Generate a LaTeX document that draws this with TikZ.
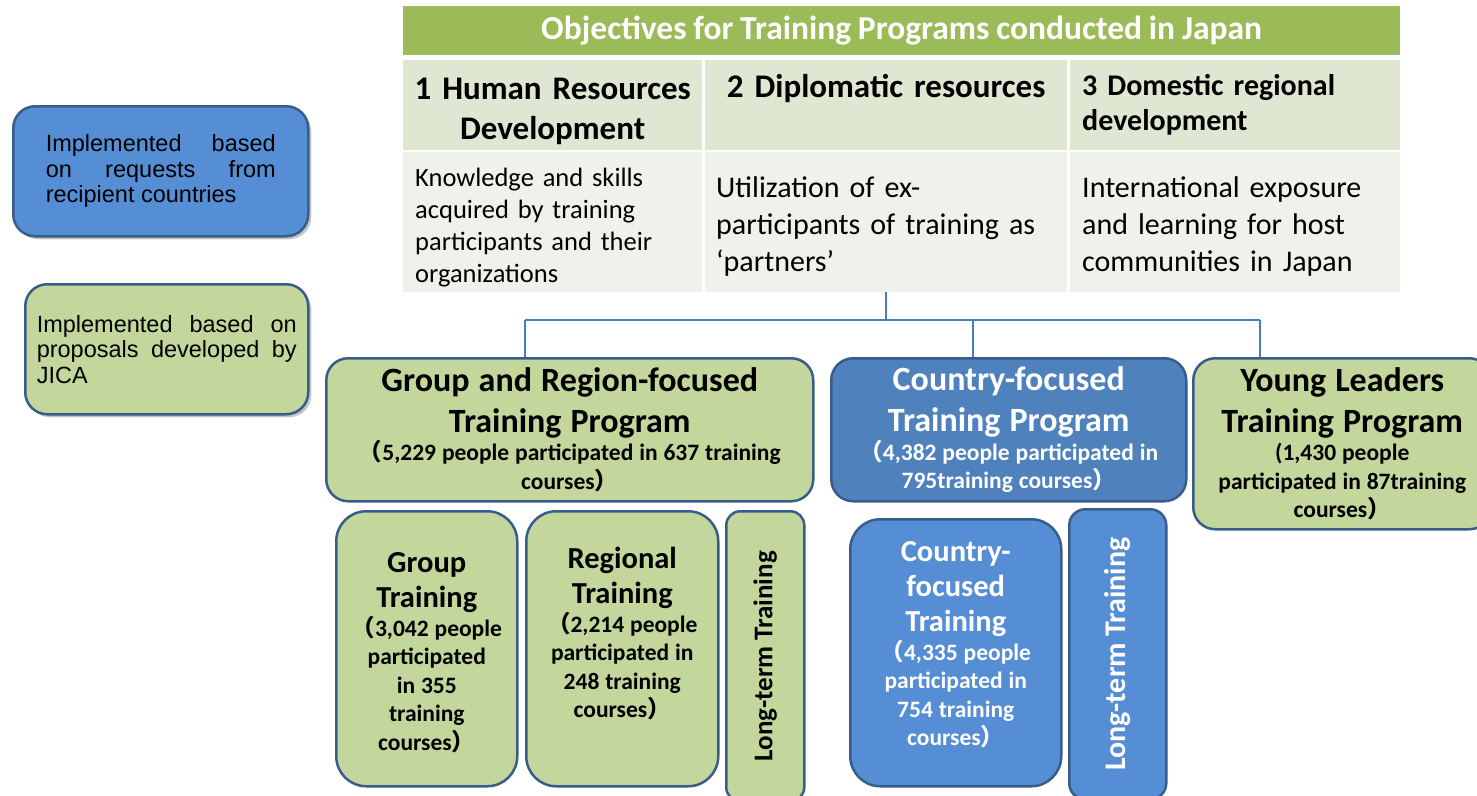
\documentclass[tikz,border=0pt]{standalone}
\usepackage{fontspec}
\setmainfont{Carlito}[WordSpace=0.9]
\newfontfamily\arial{Liberation Sans}
\newfontfamily\cjk{Noto Sans CJK SC}
\usetikzlibrary{shadows}

\definecolor{verdeobj}{HTML}{9BBB59}
\definecolor{fila1}{HTML}{DFE7D3}
\definecolor{fila2}{HTML}{EFF2EA}
\definecolor{verdecaja}{HTML}{C3D69B}
\definecolor{azulborde}{HTML}{385D8A}
\definecolor{azulclaro}{HTML}{558ED5}
\definecolor{azuloscuro}{HTML}{4F81BD}
\definecolor{linea}{HTML}{4A7EBB}

% parentesis de ancho completo
\newcommand{\abre}{{\cjk （}}
\newcommand{\cierra}{{\cjk ）}}
\newcommand{\titulo}[1]{{\fontsize{34}{41}\selectfont\spaceskip=.27em\relax #1\par}}
\newcommand{\titulob}[1]{{\fontsize{30.5}{35}\selectfont\spaceskip=.27em\relax #1\par}}
\newcommand{\cifras}[1]{{\fontsize{23.5}{28.5}\selectfont\spaceskip=.25em\relax #1\par}}

\begin{document}
\begin{tikzpicture}[x=1pt, y=-1pt,
  caja/.style={draw=azulborde, line width=2.5pt, rounded corners=22pt, anchor=north west,
    inner sep=0pt, align=center, font=\bfseries},
  verde/.style={caja, fill=verdecaja},
  azul/.style={caja, fill=azulclaro, text=white},
  celda/.style={anchor=north west, inner sep=0pt},
  leyenda/.style={caja, text=black, align=justify, font=\arial\fontsize{23.5}{25.5}\selectfont,
    drop shadow={shadow xshift=3pt, shadow yshift=-3pt, fill=black!45, opacity=.5}},
  conector/.style={draw=linea, line width=1.8pt}]

\useasboundingbox (0,0) rectangle (1477,795);
\fill[white] (0,0) rectangle (1477,795);

% Leyenda
\node[leyenda, fill=azulclaro, minimum width=295, minimum height=130, text width=230] (leg1) at (12,105)
  {Implemented\hfill based\\ on\hfill requests\hfill from\\ recipient countries};
\node[leyenda, fill=verdecaja, minimum width=283, minimum height=130, text width=260] (leg2) at (24,283)
  {Implemented\hfill based\hfill on\\ proposals\hfill developed\hfill by\\ JICA};

% Tabla de objetivos
\node[celda, fill=verdeobj, minimum width=997, minimum height=49, text=white,
  font=\fontsize{33.5}{40}\selectfont\bfseries] (obj) at (403,6) {Objectives for Training Programs conducted in Japan};
\node[celda, fill=fila1, minimum width=299, minimum height=90, text width=290, align=center,
  font=\fontsize{33}{40}\selectfont\bfseries] (c1a) at (403,60) {1 Human Resources\\ Development\par\kern-12pt};
\node[celda, fill=fila1, minimum width=362, minimum height=90, text width=350, align=center,
  text height=23, text depth=39, font=\fontsize{33}{40}\selectfont\bfseries] (c2a) at (705,60) {2 Diplomatic resources};
\node[celda, fill=fila1, minimum width=330, minimum height=90, text width=306, align=left,
  font=\fontsize{30}{35}\selectfont\bfseries] (c3a) at (1070,60) {3 Domestic regional\\ development};
\node[celda, fill=fila2, minimum width=299, minimum height=140, text width=275, align=left,
  font=\fontsize{26.5}{32}\selectfont] (c1b) at (403,152)
  {Knowledge and skills\\ acquired by training\\ participants and their\\ organizations\par\kern-10pt};
\node[celda, fill=fila2, minimum width=362, minimum height=140, text width=340, align=left,
  font=\fontsize{30}{37}\selectfont] (c2b) at (705,152)
  {Utilization of ex-\\ participants of training as\\ ‘partners’\par\kern-8pt};
\node[celda, fill=fila2, minimum width=330, minimum height=140, text width=306, align=left,
  font=\fontsize{30}{37}\selectfont] (c3b) at (1070,152)
  {International exposure\\ and learning for host\\ communities in Japan\par\kern-8pt};

% Programas
\node[verde, minimum width=487, minimum height=143, text width=480] (gr) at (325,357)
  {\titulo{Group and Region-focused\\ Training Program}\cifras{\abre 5,229 people participated in 637 training\\ courses\cierra}};
\node[caja, fill=azuloscuro, text=white, minimum width=355, minimum height=143, text width=350] (cf) at (830,357)
  {\titulo{Country-focused\\ Training Program}\cifras{\abre 4,382 people participated in\\ 795training courses\cierra}};
\node[verde, minimum width=298, minimum height=171, text width=290] (yl) at (1192,357)
  {\titulo{Young Leaders\\ Training Program}\cifras{(1,430 people\\ participated in 87training\\ courses\cierra}};

% Subprogramas
\node[verde, rounded corners=30pt, minimum width=181, minimum height=275, text width=175] (gt) at (335,510)
  {\titulob{Group\\ Training}\cifras{\abre 3,042 people\\ participated\\ in 355\\ training\\ courses\cierra}\kern-8pt};
\node[verde, rounded corners=30pt, minimum width=192, minimum height=275, text width=185] (rt) at (525,510)
  {\titulob{Regional\\ Training}\cifras{\abre 2,214 people\\ participated in\\ 248 training\\ courses\cierra}\kern30pt};
\node[verde, rounded corners=14pt, minimum width=78, minimum height=290] (lt1) at (725,510)
  {\rotatebox{90}{\fontsize{27}{30}\selectfont Long-term Training}};
\node[azul, rounded corners=30pt, minimum width=211, minimum height=267, text width=205] (ct) at (849,518)
  {\titulob{Country-\\ focused\\ Training}\cifras{\abre 4,335 people\\ participated in\\ 754 training\\ courses\cierra}\kern16pt};
\node[azul, rounded corners=16pt, minimum width=97, minimum height=290] (lt2) at (1068,508)
  {\rotatebox{90}{\fontsize{30}{33}\selectfont Long-term Training}};

% Conectores
\coordinate (b1) at (525,320);
\coordinate (b2) at (973,320);
\coordinate (b3) at (1260,320);
\draw[conector] (c2b.south) -- (c2b.south |- b2);
\draw[conector] (b1) -- (b3);
\draw[conector] (b1) -- (b1 |- gr.north);
\draw[conector] (b2) -- (b2 |- cf.north);
\draw[conector] (b3) -- (b3 |- yl.north);
\end{tikzpicture}
\end{document}
